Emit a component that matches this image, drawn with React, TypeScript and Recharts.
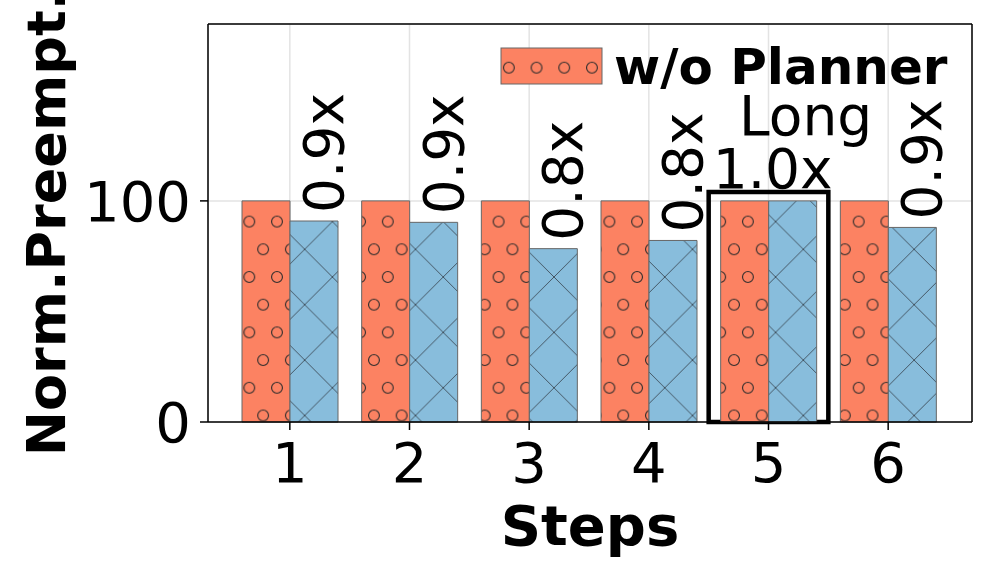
import React from 'react';
import {
  BarChart,
  Bar,
  XAxis,
  YAxis,
  CartesianGrid,
  Legend,
  LabelList,
  ReferenceArea,
} from 'recharts';

const steps = ['1', '2', '3', '4', '5', '6'];
const withoutPlanner = [100, 100, 100, 100, 100, 100];
const withPlanner = [90.9, 90.3, 78.4, 82.1, 100, 88.0];
const ratioLabels = ['0.9x', '0.9x', '0.8x', '0.8x', '1.0x', '0.9x'];
const yTicks = [0, 100];
const highlightStep = '5';
const highlightTop = 104;
const highlightText = 'Long';

const FONT = '"DejaVu Sans", sans-serif';
const ORANGE = '#FC8262';
const BLUE = '#88BDDC';

const chartData = steps.map((s, i) => ({
  step: s,
  base: withoutPlanner[i],
  planner: withPlanner[i],
  ratio: ratioLabels[i],
}));

function Patterns() {
  return (
    <svg width={0} height={0} style={{ position: 'absolute' }}>
      <defs>
        <pattern id="dots" patternUnits="userSpaceOnUse" width={27.7} height={55.4}>
          <rect width={27.7} height={55.4} fill={ORANGE} />
          {[
            [0, 0],
            [27.7, 0],
            [0, 55.4],
            [27.7, 55.4],
            [13.85, 27.7],
          ].map(([cx, cy], i) => (
            <circle key={i} cx={cx} cy={cy} r={5.4} fill="none" stroke="#2a2a2a" strokeWidth={1.1} />
          ))}
        </pattern>
        <pattern id="cross" patternUnits="userSpaceOnUse" width={55.4} height={55.4}>
          <rect width={55.4} height={55.4} fill={BLUE} />
          <line x1={-5} y1={-5} x2={60.4} y2={60.4} stroke="#3c4a56" strokeWidth={0.9} />
          <line x1={-5} y1={60.4} x2={60.4} y2={-5} stroke="#3c4a56" strokeWidth={0.9} />
        </pattern>
      </defs>
    </svg>
  );
}

// ratio labels above the w/ Planner bars
function RatioLabel(props: any) {
  const { x, y, width, value, index } = props;
  if (steps[index] === highlightStep) {
    return (
      <g fontFamily={FONT} fontSize={55} fill="#000">
        <text x={x + 4} y={y - 13} textAnchor="middle">{value}</text>
        <text x={x + 37} y={y - 66} textAnchor="middle">{highlightText}</text>
      </g>
    );
  }
  const cx = x + width / 2 + 29;
  const cy = y - 8;
  return (
    <text
      x={cx}
      y={cy}
      transform={`rotate(-90, ${cx}, ${cy})`}
      fontFamily={FONT}
      fontSize={55}
      fill="#000"
    >
      {value}
    </text>
  );
}

function LegendBox() {
  return (
    <svg width={470} height={60}>
      <rect x={6} y={8} width={101} height={36} fill="url(#dots)" stroke="#666" strokeWidth={1} />
      <text x={119} y={44} fontFamily={FONT} fontSize={50} fontWeight="bold" fill="#000">
        w/o Planner
      </text>
    </svg>
  );
}

export default function App() {
  return (
    <div style={{ position: 'absolute', left: 0, top: 0, width: 997, height: 581, background: '#fff' }}>
      <Patterns />
      <BarChart
        width={997}
        height={581}
        data={chartData}
        margin={{ top: 23, right: 24, left: 0, bottom: 0 }}
        barGap={0}
      >
        <CartesianGrid stroke="#e3e3e3" strokeWidth={1.5} />
        <XAxis
          dataKey="step"
          height={159}
          padding={{ left: 22, right: 24 }}
          tickSize={8}
          tickMargin={12}
          tick={{ fill: '#000', fontSize: 56, fontFamily: FONT }}
          tickLine={{ stroke: '#000', strokeWidth: 1.5 }}
          axisLine={{ stroke: '#000', strokeWidth: 1.5 }}
          label={({ viewBox }: any) => (
            <text
              x={viewBox.x + viewBox.width / 2}
              y={viewBox.y + 123}
              textAnchor="middle"
              fontFamily={FONT}
              fontSize={56}
              fontWeight="bold"
              fill="#000"
            >
              Steps
            </text>
          )}
        />
        <XAxis
          xAxisId="top"
          dataKey="step"
          orientation="top"
          height={1}
          padding={{ left: 22, right: 24 }}
          tick={false}
          tickLine={false}
          axisLine={{ stroke: '#000', strokeWidth: 1.5 }}
        />
        <YAxis
          width={208}
          domain={[0, 180]}
          ticks={yTicks}
          tickSize={8}
          tickMargin={9}
          tick={{ fill: '#000', fontSize: 56, fontFamily: FONT }}
          tickLine={{ stroke: '#000', strokeWidth: 1.5 }}
          axisLine={{ stroke: '#000', strokeWidth: 1.5 }}
          label={({ viewBox }: any) => {
            const cy = viewBox.y + viewBox.height / 2;
            return (
              <text
                x={65}
                y={cy}
                transform={`rotate(-90, 65, ${cy})`}
                textAnchor="middle"
                fontFamily={FONT}
                fontSize={54}
                fontWeight="bold"
                fill="#000"
              >
                Norm.Preempt.
              </text>
            );
          }}
        />
        <YAxis
          yAxisId="right"
          orientation="right"
          width={1}
          domain={[0, 180]}
          tick={false}
          tickLine={false}
          axisLine={{ stroke: '#000', strokeWidth: 1.5 }}
        />
        <Legend
          layout="horizontal"
          verticalAlign="middle"
          align="center"
          wrapperStyle={{ left: 495, top: 40, width: 470 }}
          content={() => <LegendBox />}
        />
        <Bar
          dataKey="base"
          name="w/o Planner"
          barSize={48}
          fill="url(#dots)"
          stroke="#666"
          strokeWidth={1}
          isAnimationActive={false}
        />
        <Bar
          dataKey="planner"
          name="w/ Planner"
          barSize={48}
          fill="url(#cross)"
          stroke="#666"
          strokeWidth={1}
          isAnimationActive={false}
        >
          <LabelList dataKey="ratio" content={RatioLabel} />
        </Bar>
        <ReferenceArea
          x1={highlightStep}
          x2={highlightStep}
          y1={0}
          y2={highlightTop}
          fill="none"
          fillOpacity={0}
          stroke="#000"
          strokeWidth={4.5}
        />
      </BarChart>
    </div>
  );
}
